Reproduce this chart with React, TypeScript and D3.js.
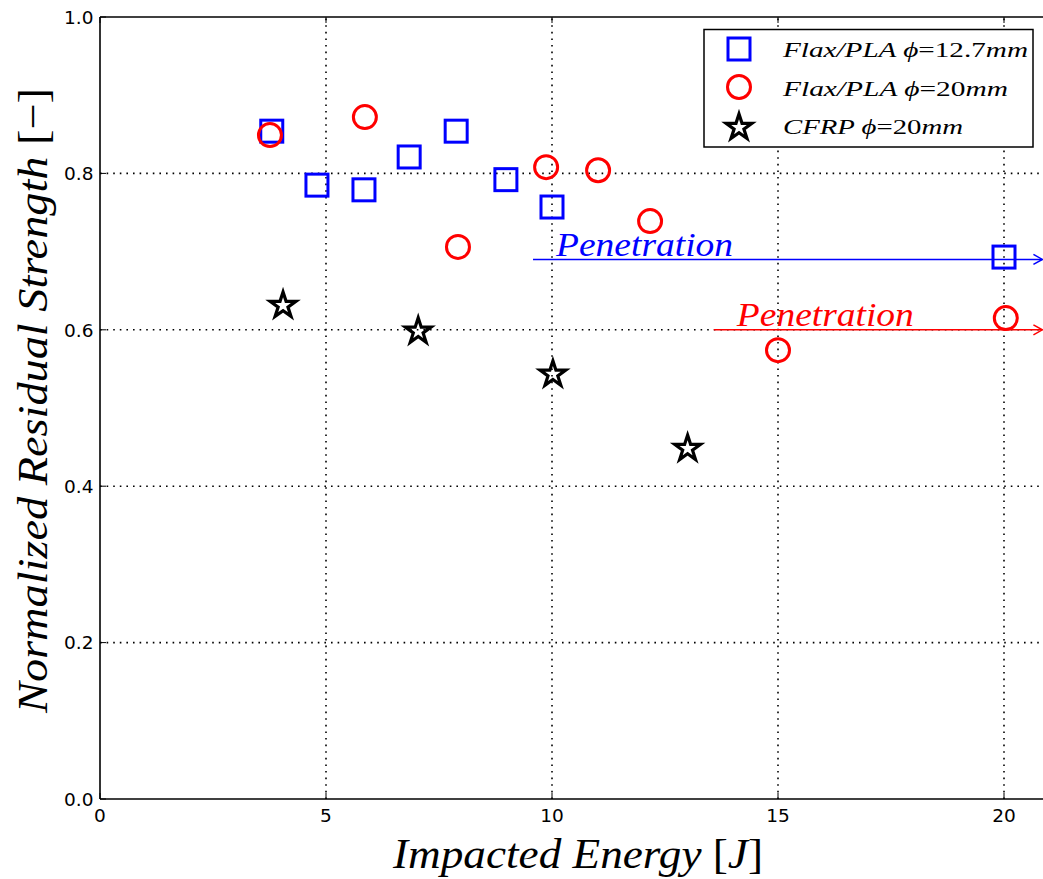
import React from 'react';
import * as d3 from 'd3';

const squareX = [3.8, 4.8, 5.84, 6.84, 7.88, 8.98, 10.0, 20.0];
const squareY = [0.854, 0.785, 0.779, 0.821, 0.854, 0.792, 0.757, 0.693];
const circleX = [3.76, 5.86, 7.92, 9.87, 11.02, 12.17, 15.0, 20.04];
const circleY = [0.849, 0.872, 0.706, 0.808, 0.804, 0.739, 0.574, 0.615];
const starX = [4.05, 7.04, 10.02, 13.0];
const starY = [0.633, 0.6, 0.545, 0.45];
const xTicks = [0, 5, 10, 15, 20];
const yTicks = [0, 0.2, 0.4, 0.6, 0.8, 1.0];
const yTickLabels = ['0.0', '0.2', '0.4', '0.6', '0.8', '1.0'];
const arrowStartX = [9.58, 13.58];
const arrowEndX = [20.85, 20.85];
const arrowY = [0.69, 0.6];
const arrowLabelX = [10.09, 14.09];
const arrowLabelY = [0.695, 0.605];
const arrowColors = ['#0000ff', '#ff0000'];
const arrowLabel = 'Penetration';

const BLUE = '#0000ff';
const RED = '#ff0000';
const SERIF = '"Liberation Serif", "DejaVu Serif", serif';
const SANS = '"DejaVu Sans", sans-serif';

function starPath(cx: number, cy: number, R: number) {
  const r = R * 0.381966;
  const pts: string[] = [];
  for (let i = 0; i < 10; i++) {
    const a = -Math.PI / 2 + (i * Math.PI) / 5;
    const rad = i % 2 === 0 ? R : r;
    pts.push(`${cx + rad * Math.cos(a)},${cy + rad * Math.sin(a)}`);
  }
  return 'M' + pts.join('L') + 'Z';
}

export default function App() {
  const W = 1043, H = 879;
  const x = d3.scaleLinear().domain([0, 21]).range([100, 100 + 21 * 45.2]);
  const y = d3.scaleLinear().domain([0, 1]).range([799, 17]);
  const x0 = x(0), x1 = W + 20, y0 = y(0), y1 = y(1);
  const sq = 22, cr = 11.5, sr = 13.5;

  return (
    <svg width={W} height={H} style={{ position: 'absolute', left: 0, top: 0, background: '#fff' }}>
      <rect x={0} y={0} width={W} height={H} fill="#fff" />
      {/* grid */}
      {xTicks.filter(t => t > 0).map(t => (
        <line key={'gx' + t} x1={x(t)} x2={x(t)} y1={y0} y2={y1} stroke="#000" strokeWidth={1.6} strokeDasharray="1.6,5" />
      ))}
      {yTicks.filter(t => t > 0 && t < 1).map(t => (
        <line key={'gy' + t} x1={x0} x2={x1} y1={y(t)} y2={y(t)} stroke="#000" strokeWidth={1.6} strokeDasharray="1.6,5" />
      ))}
      {/* ticks inward */}
      {xTicks.map(t => (
        <g key={'tx' + t}>
          <line x1={x(t)} x2={x(t)} y1={y0} y2={y0 - 6} stroke="#000" strokeWidth={1} />
          <line x1={x(t)} x2={x(t)} y1={y1} y2={y1 + 6} stroke="#000" strokeWidth={1} />
          <text x={x(t)} y={y0 + 23} textAnchor="middle" fontFamily={SANS} fontSize={18.5}>{t}</text>
        </g>
      ))}
      {yTicks.map((t, i) => (
        <g key={'ty' + t}>
          <line x1={x0} x2={x0 + 6} y1={y(t)} y2={y(t)} stroke="#000" strokeWidth={1} />
          <text x={x0 - 6.5} y={y(t) + 6.7} textAnchor="end" fontFamily={SANS} fontSize={18.5}>{yTickLabels[i]}</text>
        </g>
      ))}
      {/* spines */}
      <line x1={x0} x2={x1} y1={y0} y2={y0} stroke="#000" strokeWidth={1.6} />
      <line x1={x0} x2={x1} y1={y1} y2={y1} stroke="#000" strokeWidth={1.6} />
      <line x1={x0} x2={x0} y1={y0} y2={y1} stroke="#000" strokeWidth={1.6} />

      {/* penetration arrows */}
      {arrowY.map((v, i) => {
        const xe = x(arrowEndX[i]);
        const yy = y(v);
        return (
          <g key={'ar' + i}>
            <line x1={x(arrowStartX[i])} x2={xe} y1={yy} y2={yy} stroke={arrowColors[i]} strokeWidth={1.5} />
            <path d={`M${xe - 9},${yy - 5}L${xe},${yy}L${xe - 9},${yy + 5}`} fill="none" stroke={arrowColors[i]} strokeWidth={1.5} />
            <text x={x(arrowLabelX[i])} y={y(arrowLabelY[i])} fill={arrowColors[i]} fontFamily={SERIF} fontStyle="italic" fontSize={33} textLength={177} lengthAdjust="spacingAndGlyphs">{arrowLabel}</text>
          </g>
        );
      })}

      {/* markers */}
      {squareX.map((v, i) => (
        <rect key={'s' + i} x={x(v) - sq / 2} y={y(squareY[i]) - sq / 2} width={sq} height={sq} fill="none" stroke={BLUE} strokeWidth={3} />
      ))}
      {circleX.map((v, i) => (
        <circle key={'c' + i} cx={x(v)} cy={y(circleY[i])} r={cr} fill="none" stroke={RED} strokeWidth={3} />
      ))}
      {starX.map((v, i) => (
        <path key={'st' + i} d={starPath(x(v), y(starY[i]) + 1.5, sr)} fill="none" stroke="#000" strokeWidth={3.2} strokeLinejoin="miter" />
      ))}

      {/* legend */}
      <g>
        <rect x={704} y={29.5} width={329} height={117.5} fill="#fff" stroke="#000" strokeWidth={1.5} />
        <rect x={739 - 11} y={49 - 11} width={22} height={22} fill="none" stroke={BLUE} strokeWidth={3} />
        <circle cx={739} cy={87} r={11.5} fill="none" stroke={RED} strokeWidth={3} />
        <path d={starPath(739, 127.5, 13.5)} fill="none" stroke="#000" strokeWidth={3.2} />
        <text x={783} y={57} fontFamily={SERIF} fontSize={20} textLength={245} lengthAdjust="spacingAndGlyphs">
          <tspan fontStyle="italic">Flax/PLA </tspan><tspan fontStyle="italic">ϕ</tspan><tspan>=12.7</tspan><tspan fontStyle="italic">mm</tspan>
        </text>
        <text x={783} y={96} fontFamily={SERIF} fontSize={20} textLength={225} lengthAdjust="spacingAndGlyphs">
          <tspan fontStyle="italic">Flax/PLA </tspan><tspan fontStyle="italic">ϕ</tspan><tspan>=20</tspan><tspan fontStyle="italic">mm</tspan>
        </text>
        <text x={783} y={134} fontFamily={SERIF} fontSize={20} textLength={180} lengthAdjust="spacingAndGlyphs">
          <tspan fontStyle="italic">CFRP </tspan><tspan fontStyle="italic">ϕ</tspan><tspan>=20</tspan><tspan fontStyle="italic">mm</tspan>
        </text>
      </g>

      {/* axis labels */}
      <text x={393} y={868} fontFamily={SERIF} fontSize={42} textLength={370} lengthAdjust="spacingAndGlyphs">
        <tspan fontStyle="italic">Impacted  Energy </tspan><tspan>[</tspan><tspan fontStyle="italic">J</tspan><tspan>]</tspan>
      </text>
      <text transform="translate(47,713) rotate(-90)" x={0} y={0} fontFamily={SERIF} fontSize={42} textLength={625} lengthAdjust="spacingAndGlyphs">
        <tspan fontStyle="italic">Normalized Residual Strength </tspan><tspan>[−]</tspan>
      </text>
    </svg>
  );
}
